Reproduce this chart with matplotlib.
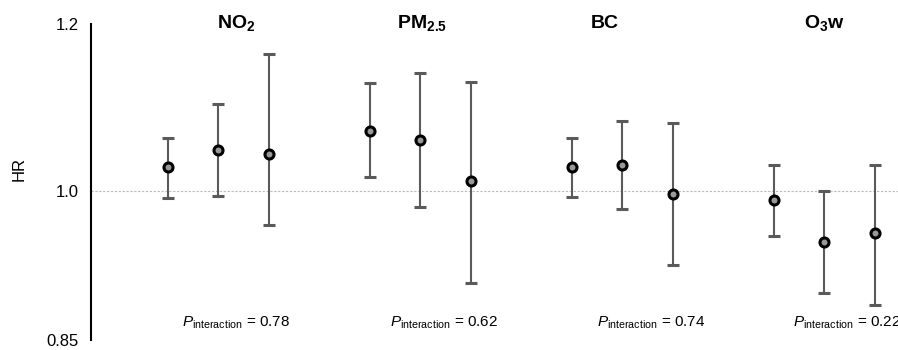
import matplotlib
matplotlib.use('Agg')
import matplotlib.pyplot as plt
from matplotlib.ticker import FixedLocator, NullFormatter

plt.rcParams['font.family'] = ['Liberation Sans', 'DejaVu Sans']
plt.rcParams['mathtext.fontset'] = 'custom'
plt.rcParams['mathtext.rm'] = 'Liberation Sans'
plt.rcParams['mathtext.it'] = 'Liberation Sans:italic'
plt.rcParams['mathtext.bf'] = 'Liberation Sans:bold'
plt.rcParams['mathtext.default'] = 'regular'

# pollutants and three strata each
pollutants = ['NO$_2$', 'PM$_{2.5}$', 'BC', 'O$_3$w']
p_interaction = ['0.78', '0.62', '0.74', '0.22']
positions = [1, 2, 3, 5, 6, 7, 9, 10, 11, 13, 14, 15]
hr = [1.027, 1.046, 1.041, 1.068, 1.057, 1.011, 1.027, 1.029, 0.997, 0.990, 0.946, 0.955]
ci_low = [0.993, 0.995, 0.964, 1.015, 0.983, 0.905, 0.994, 0.981, 0.922, 0.952, 0.895, 0.883]
ci_high = [1.060, 1.100, 1.161, 1.125, 1.137, 1.127, 1.060, 1.080, 1.077, 1.029, 1.000, 1.029]
title_x = [2.35, 6.03, 9.65, 14.0]
label_x = [1.28, 5.40, 9.50, 13.38]

fig = plt.figure(figsize=(8.98, 3.5), dpi=100)
ax = fig.add_axes([91 / 898, 10 / 350, 1 - 91 / 898, 316 / 350])

ax.set_yscale('log')
ax.set_ylim(0.85, 1.2)
ax.set_xlim(-0.519, 15.455)

ax.axhline(1.0, color='#bbbbbb', linestyle=(0, (2, 1.5)), linewidth=0.8, zorder=0)

yerr = [[h - l for h, l in zip(hr, ci_low)], [u - h for h, u in zip(hr, ci_high)]]
ax.errorbar(positions, hr, yerr=yerr, fmt='o', color='#5a5a5a', ecolor='#5a5a5a',
            elinewidth=1.5, capsize=4, capthick=1.1, markersize=6.5,
            markerfacecolor='#999999', markeredgecolor='black', markeredgewidth=2.2)

for x, name in zip(title_x, pollutants):
    ax.text(x, 1.201, name, ha='center', va='center', fontsize=14, fontweight='bold')

for x, p in zip(label_x, p_interaction):
    ax.text(x, 0.866, r'$\mathit{P}_{\mathrm{interaction}}$ = ' + p, ha='left', va='center',
            fontsize=11)

ax.yaxis.set_major_locator(FixedLocator([0.85, 1.0, 1.2]))
ax.yaxis.set_major_formatter(plt.FixedFormatter(['0.85', '1.0', '1.2']))
ax.yaxis.set_minor_locator(FixedLocator([0.85, 1.2]))
ax.yaxis.set_minor_formatter(NullFormatter())
ax.tick_params(axis='y', which='major', length=0, pad=9, labelsize=12)
ax.tick_params(axis='y', which='minor', direction='in', length=4, width=1.5)
ax.set_xticks([])

for side in ['top', 'right', 'bottom']:
    ax.spines[side].set_visible(False)
ax.spines['left'].set_linewidth(1.5)

fig.text(19 / 898, 1 - 169 / 350, 'HR', rotation=90, ha='center', va='center', fontsize=12)

plt.savefig('out.png', dpi=100)
